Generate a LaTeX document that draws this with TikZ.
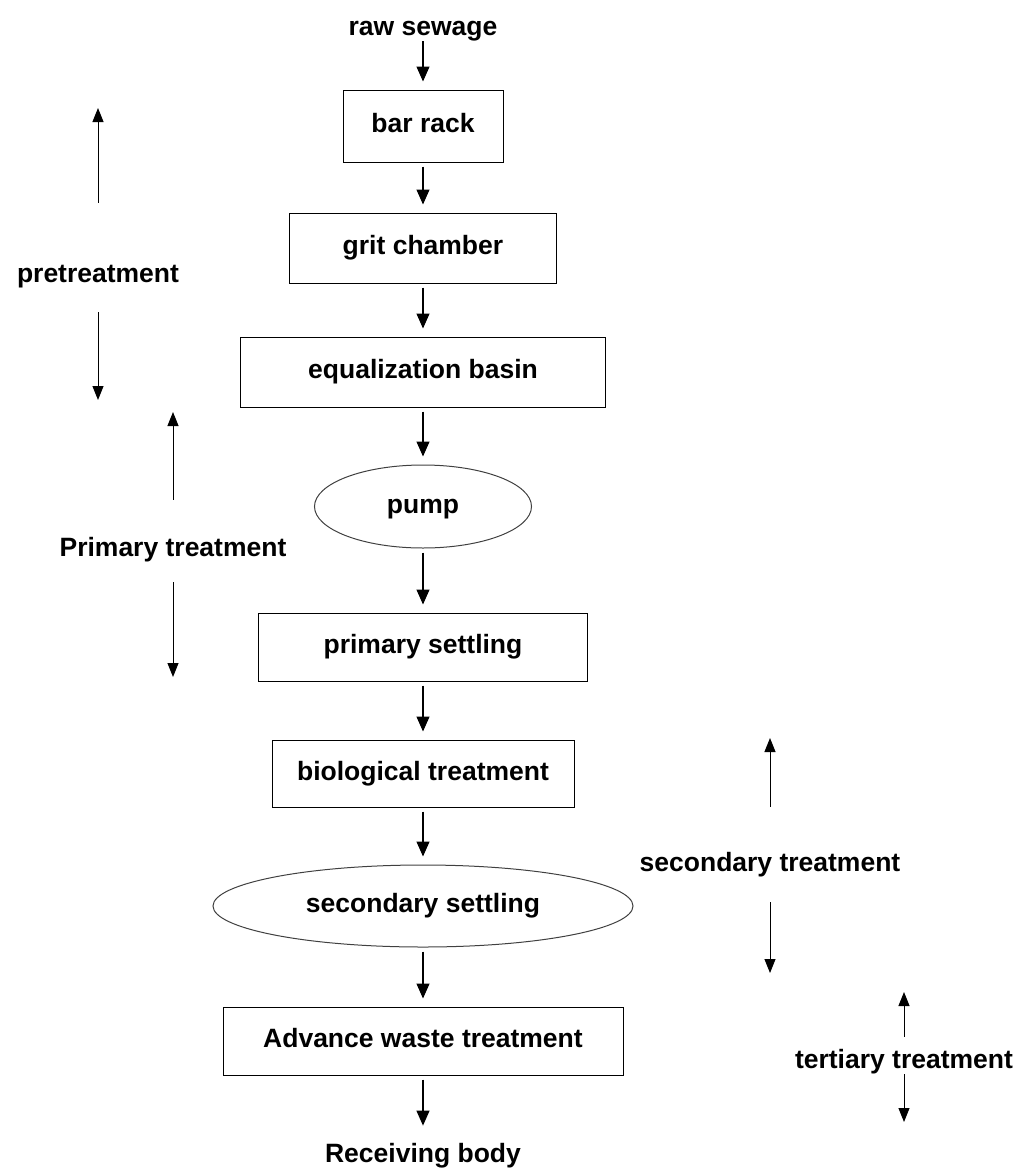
\documentclass[tikz,border=0pt]{standalone}
\usepackage{fontspec}
\setmainfont{Liberation Sans}
\usetikzlibrary{arrows.meta,shapes.geometric,positioning}
\newcommand{\stagefont}{\fontsize{13.25}{16}\selectfont\bfseries}
\tikzstyle{process_box} =[draw,rectangle,line width=0.5pt,inner sep=0pt,font=\stagefont,text height=9.5pt,text depth=2.8pt]
\tikzstyle{process_ellipse} =[draw=black!75,ellipse,line width=0.5pt,inner sep=0pt,font=\stagefont,text height=9.5pt,text depth=2.8pt]
\tikzstyle{stage_label} =[inner sep=0pt,anchor=base,font=\stagefont,text height=9.5pt,text depth=2.8pt]
\tikzstyle{flow_arrow} =[-{Triangle[length=7.5pt,width=6.5pt]},line width=0.6pt,shorten <=2pt,shorten >=4pt]
\tikzstyle{range_arrow} =[-{Triangle[length=7pt,width=5.5pt]},line width=0.5pt]

\begin{document}
\begin{tikzpicture}[x=0.5pt,y=-0.5pt]
    \useasboundingbox (0,0) rectangle (1019,1168);

    % Main treatment chain
    \node[stage_label] (raw_sewage) at (423,35) {raw sewage};
    \node[process_box,minimum width=80pt,minimum height=36pt] (bar_rack) at (423,126) {bar rack};
    \node[process_box,minimum width=133.5pt,minimum height=35pt] (grit_chamber) at (423,248) {grit chamber};
    \node[process_box,minimum width=182.5pt,minimum height=35pt] (equalization_basin) at (423,372) {equalization basin};
    \node[process_ellipse,minimum width=108.5pt,minimum height=41.5pt] (pump) at (423,506.5) {pump};
    \node[process_box,minimum width=164.5pt,minimum height=34pt] (primary_settling) at (423,647) {primary settling};
    \node[process_box,minimum width=151pt,minimum height=33.5pt] (biological_treatment) at (423,773.5) {biological treatment};
    \node[process_ellipse,minimum width=210pt,minimum height=41pt] (secondary_settling) at (423,906) {secondary settling};
    \node[process_box,minimum width=200pt,minimum height=34pt] (advance_treatment) at (423,1041) {Advance waste treatment};
    \node[stage_label] (receiving_body) at (423,1162) {Receiving body};

    \draw[flow_arrow,shorten <=0pt] (raw_sewage) to (bar_rack);
    \draw[flow_arrow] (bar_rack) to (grit_chamber);
    \draw[flow_arrow] (grit_chamber) to (equalization_basin);
    \draw[flow_arrow] (equalization_basin) to (pump);
    \draw[flow_arrow] (pump) to (primary_settling);
    \draw[flow_arrow] (primary_settling) to (biological_treatment);
    \draw[flow_arrow] (biological_treatment) to (secondary_settling);
    \draw[flow_arrow] (secondary_settling) to (advance_treatment);
    \draw[flow_arrow,shorten >=8.5pt] (advance_treatment) to (receiving_body);

    % Stage labels with their range arrows
    \node[stage_label] (pretreatment_label) at (98,282) {pretreatment};
    \coordinate (pretreatment_top) at (98,108);
    \coordinate (pretreatment_bottom) at (98,400);
    \draw[range_arrow,shorten <=30pt] (pretreatment_label) to (pretreatment_top);
    \draw[range_arrow,shorten <=12pt] (pretreatment_label) to (pretreatment_bottom);

    \node[stage_label] (primary_label) at (173,556) {Primary treatment};
    \coordinate (primary_top) at (173,412);
    \coordinate (primary_bottom) at (173,677);
    \draw[range_arrow,shorten <=18.5pt] (primary_label) to (primary_top);
    \draw[range_arrow,shorten <=10pt] (primary_label) to (primary_bottom);

    \node[stage_label] (secondary_label) at (770,871) {secondary treatment};
    \coordinate (secondary_top) at (770,738);
    \coordinate (secondary_bottom) at (770,973);
    \draw[range_arrow,shorten <=22.5pt] (secondary_label) to (secondary_top);
    \draw[range_arrow,shorten <=12.5pt] (secondary_label) to (secondary_bottom);

    \node[stage_label] (tertiary_label) at (904,1068) {tertiary treatment};
    \coordinate (tertiary_top) at (904,992);
    \coordinate (tertiary_bottom) at (904,1122);
    \draw[range_arrow,shorten <=6pt] (tertiary_label) to (tertiary_top);
    \draw[range_arrow] (tertiary_label) to (tertiary_bottom);
\end{tikzpicture}
\end{document}
